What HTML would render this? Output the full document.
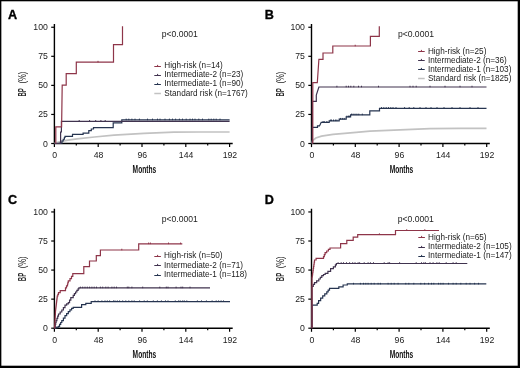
<!DOCTYPE html>
<html><head><meta charset="utf-8"><style>
html,body{margin:0;padding:0;background:#fff;}
svg{display:block;will-change:transform;}
text{font-family:"Liberation Sans",sans-serif;}
.tk{font-size:8.7px;fill:#1a1a1a;}
.lg{font-size:8.2px;fill:#222;}
.pv{font-size:8.6px;fill:#222;}
.pl{font-size:12.6px;font-weight:bold;fill:#000;stroke:#000;stroke-width:0.35px;}
.ml{font-size:10.8px;font-weight:bold;fill:#111;}
.bl{font-size:10px;font-weight:bold;fill:#2a2a2a;}
.bl2{font-size:10px;fill:#222;}
</style></head><body>
<svg width="520" height="368" viewBox="0 0 520 368">
<rect x="0" y="0" width="520" height="368" fill="#fff"/>
<text x="8.1" y="18.6" class="pl">A</text>
<text x="264.7" y="18.6" class="pl">B</text>
<text x="8.1" y="203.7" class="pl">C</text>
<text x="264.7" y="203.6" class="pl">D</text>
<path d="M54.4,24.10 V143.5 H232.70" fill="none" stroke="#000" stroke-width="1.4"/>
<path d="M51.20,143.50 H54.4" stroke="#000" stroke-width="1.2"/>
<text x="47.80" y="146.50" text-anchor="end" class="tk">0</text>
<path d="M51.20,114.44 H54.4" stroke="#000" stroke-width="1.2"/>
<text x="47.80" y="117.44" text-anchor="end" class="tk">25</text>
<path d="M51.20,85.38 H54.4" stroke="#000" stroke-width="1.2"/>
<text x="47.80" y="88.38" text-anchor="end" class="tk">50</text>
<path d="M51.20,56.31 H54.4" stroke="#000" stroke-width="1.2"/>
<text x="47.80" y="59.31" text-anchor="end" class="tk">75</text>
<path d="M51.20,27.25 H54.4" stroke="#000" stroke-width="1.2"/>
<text x="47.80" y="30.25" text-anchor="end" class="tk">100</text>
<path d="M54.40,143.5 V147.10" stroke="#000" stroke-width="1.2"/>
<text x="54.70" y="158.10" text-anchor="middle" class="tk">0</text>
<path d="M76.30,143.5 V145.50" stroke="#000" stroke-width="1.2"/>
<path d="M98.20,143.5 V147.10" stroke="#000" stroke-width="1.2"/>
<text x="98.50" y="158.10" text-anchor="middle" class="tk">48</text>
<path d="M120.10,143.5 V145.50" stroke="#000" stroke-width="1.2"/>
<path d="M142.00,143.5 V147.10" stroke="#000" stroke-width="1.2"/>
<text x="142.30" y="158.10" text-anchor="middle" class="tk">96</text>
<path d="M163.90,143.5 V145.50" stroke="#000" stroke-width="1.2"/>
<path d="M185.80,143.5 V147.10" stroke="#000" stroke-width="1.2"/>
<text x="186.10" y="158.10" text-anchor="middle" class="tk">144</text>
<path d="M207.70,143.5 V145.50" stroke="#000" stroke-width="1.2"/>
<path d="M229.60,143.5 V147.10" stroke="#000" stroke-width="1.2"/>
<text x="229.90" y="158.10" text-anchor="middle" class="tk">192</text>
<text x="0" y="0" transform="translate(144.40,172.80) scale(0.615,1)" text-anchor="middle" class="ml">Months</text>
<text x="0" y="0" transform="translate(26.40,96.50) rotate(-90) scale(0.60,1)" class="bl">BP</text>
<text x="0" y="0" transform="translate(26.40,83.60) rotate(-90) scale(0.76,1)" class="bl2">(%)</text>
<path d="M311.5,24.10 V143.5 H489.80" fill="none" stroke="#000" stroke-width="1.4"/>
<path d="M308.30,143.50 H311.5" stroke="#000" stroke-width="1.2"/>
<text x="304.90" y="146.50" text-anchor="end" class="tk">0</text>
<path d="M308.30,114.44 H311.5" stroke="#000" stroke-width="1.2"/>
<text x="304.90" y="117.44" text-anchor="end" class="tk">25</text>
<path d="M308.30,85.38 H311.5" stroke="#000" stroke-width="1.2"/>
<text x="304.90" y="88.38" text-anchor="end" class="tk">50</text>
<path d="M308.30,56.31 H311.5" stroke="#000" stroke-width="1.2"/>
<text x="304.90" y="59.31" text-anchor="end" class="tk">75</text>
<path d="M308.30,27.25 H311.5" stroke="#000" stroke-width="1.2"/>
<text x="304.90" y="30.25" text-anchor="end" class="tk">100</text>
<path d="M311.50,143.5 V147.10" stroke="#000" stroke-width="1.2"/>
<text x="311.80" y="158.10" text-anchor="middle" class="tk">0</text>
<path d="M333.40,143.5 V145.50" stroke="#000" stroke-width="1.2"/>
<path d="M355.30,143.5 V147.10" stroke="#000" stroke-width="1.2"/>
<text x="355.60" y="158.10" text-anchor="middle" class="tk">48</text>
<path d="M377.20,143.5 V145.50" stroke="#000" stroke-width="1.2"/>
<path d="M399.10,143.5 V147.10" stroke="#000" stroke-width="1.2"/>
<text x="399.40" y="158.10" text-anchor="middle" class="tk">96</text>
<path d="M421.00,143.5 V145.50" stroke="#000" stroke-width="1.2"/>
<path d="M442.90,143.5 V147.10" stroke="#000" stroke-width="1.2"/>
<text x="443.20" y="158.10" text-anchor="middle" class="tk">144</text>
<path d="M464.80,143.5 V145.50" stroke="#000" stroke-width="1.2"/>
<path d="M486.70,143.5 V147.10" stroke="#000" stroke-width="1.2"/>
<text x="487.00" y="158.10" text-anchor="middle" class="tk">192</text>
<text x="0" y="0" transform="translate(401.50,172.80) scale(0.615,1)" text-anchor="middle" class="ml">Months</text>
<text x="0" y="0" transform="translate(283.50,96.50) rotate(-90) scale(0.60,1)" class="bl">BP</text>
<text x="0" y="0" transform="translate(283.50,83.60) rotate(-90) scale(0.76,1)" class="bl2">(%)</text>
<path d="M54.4,208.80 V328.2 H232.70" fill="none" stroke="#000" stroke-width="1.4"/>
<path d="M51.20,328.20 H54.4" stroke="#000" stroke-width="1.2"/>
<text x="47.80" y="331.20" text-anchor="end" class="tk">0</text>
<path d="M51.20,299.14 H54.4" stroke="#000" stroke-width="1.2"/>
<text x="47.80" y="302.14" text-anchor="end" class="tk">25</text>
<path d="M51.20,270.07 H54.4" stroke="#000" stroke-width="1.2"/>
<text x="47.80" y="273.07" text-anchor="end" class="tk">50</text>
<path d="M51.20,241.01 H54.4" stroke="#000" stroke-width="1.2"/>
<text x="47.80" y="244.01" text-anchor="end" class="tk">75</text>
<path d="M51.20,211.95 H54.4" stroke="#000" stroke-width="1.2"/>
<text x="47.80" y="214.95" text-anchor="end" class="tk">100</text>
<path d="M54.40,328.2 V331.80" stroke="#000" stroke-width="1.2"/>
<text x="54.70" y="342.80" text-anchor="middle" class="tk">0</text>
<path d="M76.30,328.2 V330.20" stroke="#000" stroke-width="1.2"/>
<path d="M98.20,328.2 V331.80" stroke="#000" stroke-width="1.2"/>
<text x="98.50" y="342.80" text-anchor="middle" class="tk">48</text>
<path d="M120.10,328.2 V330.20" stroke="#000" stroke-width="1.2"/>
<path d="M142.00,328.2 V331.80" stroke="#000" stroke-width="1.2"/>
<text x="142.30" y="342.80" text-anchor="middle" class="tk">96</text>
<path d="M163.90,328.2 V330.20" stroke="#000" stroke-width="1.2"/>
<path d="M185.80,328.2 V331.80" stroke="#000" stroke-width="1.2"/>
<text x="186.10" y="342.80" text-anchor="middle" class="tk">144</text>
<path d="M207.70,328.2 V330.20" stroke="#000" stroke-width="1.2"/>
<path d="M229.60,328.2 V331.80" stroke="#000" stroke-width="1.2"/>
<text x="229.90" y="342.80" text-anchor="middle" class="tk">192</text>
<text x="0" y="0" transform="translate(144.40,357.50) scale(0.615,1)" text-anchor="middle" class="ml">Months</text>
<text x="0" y="0" transform="translate(26.40,281.20) rotate(-90) scale(0.60,1)" class="bl">BP</text>
<text x="0" y="0" transform="translate(26.40,268.30) rotate(-90) scale(0.76,1)" class="bl2">(%)</text>
<path d="M311.5,208.80 V328.2 H489.80" fill="none" stroke="#000" stroke-width="1.4"/>
<path d="M308.30,328.20 H311.5" stroke="#000" stroke-width="1.2"/>
<text x="304.90" y="331.20" text-anchor="end" class="tk">0</text>
<path d="M308.30,299.14 H311.5" stroke="#000" stroke-width="1.2"/>
<text x="304.90" y="302.14" text-anchor="end" class="tk">25</text>
<path d="M308.30,270.07 H311.5" stroke="#000" stroke-width="1.2"/>
<text x="304.90" y="273.07" text-anchor="end" class="tk">50</text>
<path d="M308.30,241.01 H311.5" stroke="#000" stroke-width="1.2"/>
<text x="304.90" y="244.01" text-anchor="end" class="tk">75</text>
<path d="M308.30,211.95 H311.5" stroke="#000" stroke-width="1.2"/>
<text x="304.90" y="214.95" text-anchor="end" class="tk">100</text>
<path d="M311.50,328.2 V331.80" stroke="#000" stroke-width="1.2"/>
<text x="311.80" y="342.80" text-anchor="middle" class="tk">0</text>
<path d="M333.40,328.2 V330.20" stroke="#000" stroke-width="1.2"/>
<path d="M355.30,328.2 V331.80" stroke="#000" stroke-width="1.2"/>
<text x="355.60" y="342.80" text-anchor="middle" class="tk">48</text>
<path d="M377.20,328.2 V330.20" stroke="#000" stroke-width="1.2"/>
<path d="M399.10,328.2 V331.80" stroke="#000" stroke-width="1.2"/>
<text x="399.40" y="342.80" text-anchor="middle" class="tk">96</text>
<path d="M421.00,328.2 V330.20" stroke="#000" stroke-width="1.2"/>
<path d="M442.90,328.2 V331.80" stroke="#000" stroke-width="1.2"/>
<text x="443.20" y="342.80" text-anchor="middle" class="tk">144</text>
<path d="M464.80,328.2 V330.20" stroke="#000" stroke-width="1.2"/>
<path d="M486.70,328.2 V331.80" stroke="#000" stroke-width="1.2"/>
<text x="487.00" y="342.80" text-anchor="middle" class="tk">192</text>
<text x="0" y="0" transform="translate(401.50,357.50) scale(0.615,1)" text-anchor="middle" class="ml">Months</text>
<text x="0" y="0" transform="translate(283.50,281.20) rotate(-90) scale(0.60,1)" class="bl">BP</text>
<text x="0" y="0" transform="translate(283.50,268.30) rotate(-90) scale(0.76,1)" class="bl2">(%)</text>
<path d="M54.4,143.5 L57,142.6 L61,141.3 L68,140.1 L77,138.9 L94.4,137 L114,135.2 L144,133.3 L174,132.2 L200,132 L229.6,132" fill="none" stroke="#c2c2c2" stroke-width="1.7" stroke-linejoin="miter" stroke-linecap="butt" />
<path d="M54.40,143.50 H56.90 V143.30 H59.40 V143.10 H62.00 V141.00 H63.20 V139.25 H64.40 V137.50 H65.00 V136.30 H72.50 V134.40 H83.10 V133.10 H88.80 V130.60 H91.30 V129.00 H93.50 V127.60 H113.20 V122.90 H121.80 V119.90 H229.60" fill="none" stroke="#263450" stroke-width="1.2" stroke-linejoin="miter" stroke-linecap="butt" />
<path d="M126.2,118.65 V120.20" stroke="#263450" stroke-width="1.0"/>
<path d="M128.8,118.65 V120.20" stroke="#263450" stroke-width="1.0"/>
<path d="M131.9,118.65 V120.20" stroke="#263450" stroke-width="1.0"/>
<path d="M135.0,118.65 V120.20" stroke="#263450" stroke-width="1.0"/>
<path d="M139.4,118.65 V120.20" stroke="#263450" stroke-width="1.0"/>
<path d="M147.5,118.65 V120.20" stroke="#263450" stroke-width="1.0"/>
<path d="M152.5,118.65 V120.20" stroke="#263450" stroke-width="1.0"/>
<path d="M157.5,118.65 V120.20" stroke="#263450" stroke-width="1.0"/>
<path d="M160.0,118.65 V120.20" stroke="#263450" stroke-width="1.0"/>
<path d="M165.0,118.65 V120.20" stroke="#263450" stroke-width="1.0"/>
<path d="M169.4,118.65 V120.20" stroke="#263450" stroke-width="1.0"/>
<path d="M172.5,118.65 V120.20" stroke="#263450" stroke-width="1.0"/>
<path d="M175.6,118.65 V120.20" stroke="#263450" stroke-width="1.0"/>
<path d="M179.4,118.65 V120.20" stroke="#263450" stroke-width="1.0"/>
<path d="M182.5,118.65 V120.20" stroke="#263450" stroke-width="1.0"/>
<path d="M186.2,118.65 V120.20" stroke="#263450" stroke-width="1.0"/>
<path d="M190.0,118.65 V120.20" stroke="#263450" stroke-width="1.0"/>
<path d="M192.5,118.65 V120.20" stroke="#263450" stroke-width="1.0"/>
<path d="M195.0,118.65 V120.20" stroke="#263450" stroke-width="1.0"/>
<path d="M198.8,118.65 V120.20" stroke="#263450" stroke-width="1.0"/>
<path d="M202.5,118.65 V120.20" stroke="#263450" stroke-width="1.0"/>
<path d="M208.8,118.65 V120.20" stroke="#263450" stroke-width="1.0"/>
<path d="M211.2,118.65 V120.20" stroke="#263450" stroke-width="1.0"/>
<path d="M213.8,118.65 V120.20" stroke="#263450" stroke-width="1.0"/>
<path d="M216.2,118.65 V120.20" stroke="#263450" stroke-width="1.0"/>
<path d="M220.0,118.65 V120.20" stroke="#263450" stroke-width="1.0"/>
<path d="M54.4,143.5 H60.6 V132 H61.4 V121.3 H229.6" fill="none" stroke="#40334f" stroke-width="1.2" stroke-linejoin="miter" stroke-linecap="butt" />
<path d="M79.2,120.05 V121.60" stroke="#40334f" stroke-width="1.0"/>
<path d="M89.6,120.05 V121.60" stroke="#40334f" stroke-width="1.0"/>
<path d="M95.7,120.05 V121.60" stroke="#40334f" stroke-width="1.0"/>
<path d="M100.9,120.05 V121.60" stroke="#40334f" stroke-width="1.0"/>
<path d="M105.2,120.05 V121.60" stroke="#40334f" stroke-width="1.0"/>
<path d="M55.8,143.5 V126.8 H61.6 L62.2,85.2 H66.2 V73.6 H76.3 V62.1 H113.5 V44.6 H122.5 V26.2" fill="none" stroke="#8e3549" stroke-width="1.2" stroke-linejoin="miter" stroke-linecap="butt" />
<path d="M98.0,60.85 V62.40" stroke="#8e3549" stroke-width="1.0"/>
<path d="M312,143.5 L312.6,140.6 L315.8,138.0 L321.5,136.1 L333,134.4 L344.6,133.3 L356.1,132.4 L370,131.1 L400,129.8 L430,128.6 L460,128.4 L486.5,128.4" fill="none" stroke="#c2c2c2" stroke-width="1.7" stroke-linejoin="miter" stroke-linecap="butt" />
<path d="M312.4,143.5 V127.3 H317.5 V125.9 H319.5 L321.2,122.3 H329.2 V120.8 H339.2 V119.2 H346.2 V116.9 H350.6 V114.9 H369.8 V110.8 H379.5 V108.4 H486.5" fill="none" stroke="#263450" stroke-width="1.2" stroke-linejoin="miter" stroke-linecap="butt" />
<path d="M381.5,107.15 V108.70" stroke="#263450" stroke-width="1.0"/>
<path d="M383.8,107.15 V108.70" stroke="#263450" stroke-width="1.0"/>
<path d="M386.2,107.15 V108.70" stroke="#263450" stroke-width="1.0"/>
<path d="M388.5,107.15 V108.70" stroke="#263450" stroke-width="1.0"/>
<path d="M390.8,107.15 V108.70" stroke="#263450" stroke-width="1.0"/>
<path d="M393.0,107.15 V108.70" stroke="#263450" stroke-width="1.0"/>
<path d="M396.0,107.15 V108.70" stroke="#263450" stroke-width="1.0"/>
<path d="M404.6,107.15 V108.70" stroke="#263450" stroke-width="1.0"/>
<path d="M409.2,107.15 V108.70" stroke="#263450" stroke-width="1.0"/>
<path d="M413.8,107.15 V108.70" stroke="#263450" stroke-width="1.0"/>
<path d="M420.0,107.15 V108.70" stroke="#263450" stroke-width="1.0"/>
<path d="M426.0,107.15 V108.70" stroke="#263450" stroke-width="1.0"/>
<path d="M431.0,107.15 V108.70" stroke="#263450" stroke-width="1.0"/>
<path d="M437.0,107.15 V108.70" stroke="#263450" stroke-width="1.0"/>
<path d="M444.0,107.15 V108.70" stroke="#263450" stroke-width="1.0"/>
<path d="M452.0,107.15 V108.70" stroke="#263450" stroke-width="1.0"/>
<path d="M460.0,107.15 V108.70" stroke="#263450" stroke-width="1.0"/>
<path d="M470.0,107.15 V108.70" stroke="#263450" stroke-width="1.0"/>
<path d="M478.0,107.15 V108.70" stroke="#263450" stroke-width="1.0"/>
<path d="M351.5,113.65 V115.20" stroke="#263450" stroke-width="1.0"/>
<path d="M353.1,113.65 V115.20" stroke="#263450" stroke-width="1.0"/>
<path d="M355.0,113.65 V115.20" stroke="#263450" stroke-width="1.0"/>
<path d="M356.9,113.65 V115.20" stroke="#263450" stroke-width="1.0"/>
<path d="M358.8,113.65 V115.20" stroke="#263450" stroke-width="1.0"/>
<path d="M362.3,113.65 V115.20" stroke="#263450" stroke-width="1.0"/>
<path d="M323.0,121.05 V122.60" stroke="#263450" stroke-width="1.0"/>
<path d="M324.2,121.05 V122.60" stroke="#263450" stroke-width="1.0"/>
<path d="M326.9,121.05 V122.60" stroke="#263450" stroke-width="1.0"/>
<path d="M330.4,119.55 V121.10" stroke="#263450" stroke-width="1.0"/>
<path d="M331.5,119.55 V121.10" stroke="#263450" stroke-width="1.0"/>
<path d="M333.5,119.55 V121.10" stroke="#263450" stroke-width="1.0"/>
<path d="M335.4,119.55 V121.10" stroke="#263450" stroke-width="1.0"/>
<path d="M336.9,119.55 V121.10" stroke="#263450" stroke-width="1.0"/>
<path d="M340.4,117.95 V119.50" stroke="#263450" stroke-width="1.0"/>
<path d="M342.3,117.95 V119.50" stroke="#263450" stroke-width="1.0"/>
<path d="M344.2,117.95 V119.50" stroke="#263450" stroke-width="1.0"/>
<path d="M346.9,115.65 V117.20" stroke="#263450" stroke-width="1.0"/>
<path d="M348.5,115.65 V117.20" stroke="#263450" stroke-width="1.0"/>
<path d="M349.6,115.65 V117.20" stroke="#263450" stroke-width="1.0"/>
<path d="M312.4,143.5 V101.3 H316.3 V95 L318.9,87 H486.5" fill="none" stroke="#40334f" stroke-width="1.2" stroke-linejoin="miter" stroke-linecap="butt" />
<path d="M336.9,85.75 V87.30" stroke="#40334f" stroke-width="1.0"/>
<path d="M346.2,85.75 V87.30" stroke="#40334f" stroke-width="1.0"/>
<path d="M348.5,85.75 V87.30" stroke="#40334f" stroke-width="1.0"/>
<path d="M350.8,85.75 V87.30" stroke="#40334f" stroke-width="1.0"/>
<path d="M353.8,85.75 V87.30" stroke="#40334f" stroke-width="1.0"/>
<path d="M358.5,85.75 V87.30" stroke="#40334f" stroke-width="1.0"/>
<path d="M361.5,85.75 V87.30" stroke="#40334f" stroke-width="1.0"/>
<path d="M378.5,85.75 V87.30" stroke="#40334f" stroke-width="1.0"/>
<path d="M410.0,85.75 V87.30" stroke="#40334f" stroke-width="1.0"/>
<path d="M413.0,85.75 V87.30" stroke="#40334f" stroke-width="1.0"/>
<path d="M416.2,85.75 V87.30" stroke="#40334f" stroke-width="1.0"/>
<path d="M430.0,85.75 V87.30" stroke="#40334f" stroke-width="1.0"/>
<path d="M445.0,85.75 V87.30" stroke="#40334f" stroke-width="1.0"/>
<path d="M460.0,85.75 V87.30" stroke="#40334f" stroke-width="1.0"/>
<path d="M472.0,85.75 V87.30" stroke="#40334f" stroke-width="1.0"/>
<path d="M312.8,143.5 V82.7 H317.3 L318.9,59.3 H323 V53 H332.8 V46 H370.4 V36.3 H379.3 V26.2" fill="none" stroke="#8e3549" stroke-width="1.2" stroke-linejoin="miter" stroke-linecap="butt" />
<path d="M355.2,44.75 V46.30" stroke="#8e3549" stroke-width="1.0"/>
<path d="M54.40,328.20 H55.30 V327.90 H56.90 V327.10 H58.50 V326.30 H59.60 V324.40 H60.70 V322.50 H61.80 V320.60 H63.40 V318.15 H65.00 V315.70 H66.65 V313.65 H68.30 V311.60 H69.95 V309.95 H71.60 V308.30 H73.20 V307.40 H81.60 V304.60 H85.80 V303.40 H91.20 V301.70 H230.00" fill="none" stroke="#263450" stroke-width="1.2" stroke-linejoin="miter" stroke-linecap="butt" />
<path d="M95.0,300.45 V302.00" stroke="#263450" stroke-width="1.0"/>
<path d="M98.1,300.45 V302.00" stroke="#263450" stroke-width="1.0"/>
<path d="M101.9,300.45 V302.00" stroke="#263450" stroke-width="1.0"/>
<path d="M105.0,300.45 V302.00" stroke="#263450" stroke-width="1.0"/>
<path d="M107.3,300.45 V302.00" stroke="#263450" stroke-width="1.0"/>
<path d="M109.6,300.45 V302.00" stroke="#263450" stroke-width="1.0"/>
<path d="M113.5,300.45 V302.00" stroke="#263450" stroke-width="1.0"/>
<path d="M115.0,300.45 V302.00" stroke="#263450" stroke-width="1.0"/>
<path d="M117.3,300.45 V302.00" stroke="#263450" stroke-width="1.0"/>
<path d="M119.6,300.45 V302.00" stroke="#263450" stroke-width="1.0"/>
<path d="M122.7,300.45 V302.00" stroke="#263450" stroke-width="1.0"/>
<path d="M125.8,300.45 V302.00" stroke="#263450" stroke-width="1.0"/>
<path d="M128.8,300.45 V302.00" stroke="#263450" stroke-width="1.0"/>
<path d="M131.9,300.45 V302.00" stroke="#263450" stroke-width="1.0"/>
<path d="M134.2,300.45 V302.00" stroke="#263450" stroke-width="1.0"/>
<path d="M139.6,300.45 V302.00" stroke="#263450" stroke-width="1.0"/>
<path d="M144.2,300.45 V302.00" stroke="#263450" stroke-width="1.0"/>
<path d="M147.3,300.45 V302.00" stroke="#263450" stroke-width="1.0"/>
<path d="M153.3,300.45 V302.00" stroke="#263450" stroke-width="1.0"/>
<path d="M157.4,300.45 V302.00" stroke="#263450" stroke-width="1.0"/>
<path d="M161.4,300.45 V302.00" stroke="#263450" stroke-width="1.0"/>
<path d="M165.5,300.45 V302.00" stroke="#263450" stroke-width="1.0"/>
<path d="M168.0,300.45 V302.00" stroke="#263450" stroke-width="1.0"/>
<path d="M175.3,300.45 V302.00" stroke="#263450" stroke-width="1.0"/>
<path d="M178.6,300.45 V302.00" stroke="#263450" stroke-width="1.0"/>
<path d="M180.2,300.45 V302.00" stroke="#263450" stroke-width="1.0"/>
<path d="M182.7,300.45 V302.00" stroke="#263450" stroke-width="1.0"/>
<path d="M184.3,300.45 V302.00" stroke="#263450" stroke-width="1.0"/>
<path d="M186.8,300.45 V302.00" stroke="#263450" stroke-width="1.0"/>
<path d="M197.4,300.45 V302.00" stroke="#263450" stroke-width="1.0"/>
<path d="M201.5,300.45 V302.00" stroke="#263450" stroke-width="1.0"/>
<path d="M206.4,300.45 V302.00" stroke="#263450" stroke-width="1.0"/>
<path d="M212.1,300.45 V302.00" stroke="#263450" stroke-width="1.0"/>
<path d="M216.2,300.45 V302.00" stroke="#263450" stroke-width="1.0"/>
<path d="M218.6,300.45 V302.00" stroke="#263450" stroke-width="1.0"/>
<path d="M221.1,300.45 V302.00" stroke="#263450" stroke-width="1.0"/>
<path d="M223.5,300.45 V302.00" stroke="#263450" stroke-width="1.0"/>
<path d="M54.40,328.20 H54.83 V326.30 H55.25 V324.40 H55.67 V322.50 H56.10 V320.60 H56.90 V318.40 H57.70 V316.20 H58.50 V314.00 H60.15 V312.00 H61.80 V310.00 H63.40 V307.55 H65.00 V305.10 H66.65 V303.85 H68.30 V302.60 H69.55 V300.15 H70.80 V297.70 H73.20 V295.30 H74.40 V293.65 H75.60 V292.00 H76.85 V290.40 H78.10 V288.80 H78.90 V287.90 H210.00" fill="none" stroke="#40334f" stroke-width="1.2" stroke-linejoin="miter" stroke-linecap="butt" />
<path d="M80.4,286.65 V288.20" stroke="#40334f" stroke-width="1.0"/>
<path d="M82.7,286.65 V288.20" stroke="#40334f" stroke-width="1.0"/>
<path d="M85.0,286.65 V288.20" stroke="#40334f" stroke-width="1.0"/>
<path d="M87.3,286.65 V288.20" stroke="#40334f" stroke-width="1.0"/>
<path d="M89.6,286.65 V288.20" stroke="#40334f" stroke-width="1.0"/>
<path d="M91.9,286.65 V288.20" stroke="#40334f" stroke-width="1.0"/>
<path d="M94.2,286.65 V288.20" stroke="#40334f" stroke-width="1.0"/>
<path d="M96.5,286.65 V288.20" stroke="#40334f" stroke-width="1.0"/>
<path d="M100.4,286.65 V288.20" stroke="#40334f" stroke-width="1.0"/>
<path d="M102.7,286.65 V288.20" stroke="#40334f" stroke-width="1.0"/>
<path d="M105.8,286.65 V288.20" stroke="#40334f" stroke-width="1.0"/>
<path d="M108.1,286.65 V288.20" stroke="#40334f" stroke-width="1.0"/>
<path d="M111.9,286.65 V288.20" stroke="#40334f" stroke-width="1.0"/>
<path d="M114.2,286.65 V288.20" stroke="#40334f" stroke-width="1.0"/>
<path d="M116.5,286.65 V288.20" stroke="#40334f" stroke-width="1.0"/>
<path d="M127.3,286.65 V288.20" stroke="#40334f" stroke-width="1.0"/>
<path d="M128.8,286.65 V288.20" stroke="#40334f" stroke-width="1.0"/>
<path d="M131.9,286.65 V288.20" stroke="#40334f" stroke-width="1.0"/>
<path d="M142.7,286.65 V288.20" stroke="#40334f" stroke-width="1.0"/>
<path d="M159.8,286.65 V288.20" stroke="#40334f" stroke-width="1.0"/>
<path d="M166.3,286.65 V288.20" stroke="#40334f" stroke-width="1.0"/>
<path d="M168.0,286.65 V288.20" stroke="#40334f" stroke-width="1.0"/>
<path d="M176.1,286.65 V288.20" stroke="#40334f" stroke-width="1.0"/>
<path d="M181.0,286.65 V288.20" stroke="#40334f" stroke-width="1.0"/>
<path d="M182.7,286.65 V288.20" stroke="#40334f" stroke-width="1.0"/>
<path d="M190.0,286.65 V288.20" stroke="#40334f" stroke-width="1.0"/>
<path d="M54.60,328.20 H54.70 V326.18 H54.80 V324.16 H54.90 V322.13 H55.00 V320.11 H55.10 V318.09 H55.20 V316.07 H55.30 V314.04 H55.40 V312.02 H55.50 V310.00 H55.74 V308.00 H55.99 V306.00 H56.23 V304.00 H56.47 V302.00 H56.71 V300.00 H56.96 V298.00 H57.20 V296.00 H57.85 V294.30 H58.50 V292.60 H60.20 V290.60 H64.20 H65.50 V287.80 H66.50 V285.90 H67.50 V284.00 H67.90 V282.40 H68.30 V280.80 H70.00 V278.60 H71.50 V276.40 H72.80 V273.60 H83.80 V266.60 H89.50 V261.00 H96.30 V255.70 H100.40 V250.00 H138.70 V243.80 H182.30" fill="none" stroke="#8e3549" stroke-width="1.2" stroke-linejoin="miter" stroke-linecap="butt" />
<path d="M121.8,248.75 V250.30" stroke="#8e3549" stroke-width="1.0"/>
<path d="M148.6,242.55 V244.10" stroke="#8e3549" stroke-width="1.0"/>
<path d="M150.4,242.55 V244.10" stroke="#8e3549" stroke-width="1.0"/>
<path d="M168.5,242.55 V244.10" stroke="#8e3549" stroke-width="1.0"/>
<path d="M180.6,242.55 V244.10" stroke="#8e3549" stroke-width="1.0"/>
<path d="M312.00,328.20 V305.10 H315.50 H317.20 V303.30 H318.60 V300.60 H320.65 V298.20 H322.70 V295.80 H324.75 V293.80 H326.80 V291.80 H328.15 V290.10 H329.50 V288.40 H338.80 V286.80 H343.10 V285.00 H347.30 V283.90 H486.30" fill="none" stroke="#263450" stroke-width="1.2" stroke-linejoin="miter" stroke-linecap="butt" />
<path d="M353.5,282.85 V284.40" stroke="#263450" stroke-width="1.0"/>
<path d="M360.4,282.85 V284.40" stroke="#263450" stroke-width="1.0"/>
<path d="M363.5,282.85 V284.40" stroke="#263450" stroke-width="1.0"/>
<path d="M365.8,282.85 V284.40" stroke="#263450" stroke-width="1.0"/>
<path d="M368.1,282.85 V284.40" stroke="#263450" stroke-width="1.0"/>
<path d="M371.2,282.85 V284.40" stroke="#263450" stroke-width="1.0"/>
<path d="M374.2,282.85 V284.40" stroke="#263450" stroke-width="1.0"/>
<path d="M378.1,282.85 V284.40" stroke="#263450" stroke-width="1.0"/>
<path d="M380.4,282.85 V284.40" stroke="#263450" stroke-width="1.0"/>
<path d="M388.1,282.85 V284.40" stroke="#263450" stroke-width="1.0"/>
<path d="M391.2,282.85 V284.40" stroke="#263450" stroke-width="1.0"/>
<path d="M394.2,282.85 V284.40" stroke="#263450" stroke-width="1.0"/>
<path d="M398.1,282.85 V284.40" stroke="#263450" stroke-width="1.0"/>
<path d="M405.8,282.85 V284.40" stroke="#263450" stroke-width="1.0"/>
<path d="M408.8,282.85 V284.40" stroke="#263450" stroke-width="1.0"/>
<path d="M413.8,282.85 V284.40" stroke="#263450" stroke-width="1.0"/>
<path d="M420.8,282.85 V284.40" stroke="#263450" stroke-width="1.0"/>
<path d="M424.6,282.85 V284.40" stroke="#263450" stroke-width="1.0"/>
<path d="M428.5,282.85 V284.40" stroke="#263450" stroke-width="1.0"/>
<path d="M431.5,282.85 V284.40" stroke="#263450" stroke-width="1.0"/>
<path d="M433.8,282.85 V284.40" stroke="#263450" stroke-width="1.0"/>
<path d="M438.5,282.85 V284.40" stroke="#263450" stroke-width="1.0"/>
<path d="M440.8,282.85 V284.40" stroke="#263450" stroke-width="1.0"/>
<path d="M443.1,282.85 V284.40" stroke="#263450" stroke-width="1.0"/>
<path d="M448.5,282.85 V284.40" stroke="#263450" stroke-width="1.0"/>
<path d="M453.1,282.85 V284.40" stroke="#263450" stroke-width="1.0"/>
<path d="M456.2,282.85 V284.40" stroke="#263450" stroke-width="1.0"/>
<path d="M460.8,282.85 V284.40" stroke="#263450" stroke-width="1.0"/>
<path d="M466.2,282.85 V284.40" stroke="#263450" stroke-width="1.0"/>
<path d="M470.0,282.85 V284.40" stroke="#263450" stroke-width="1.0"/>
<path d="M474.6,282.85 V284.40" stroke="#263450" stroke-width="1.0"/>
<path d="M478.5,282.85 V284.40" stroke="#263450" stroke-width="1.0"/>
<path d="M312.00,328.20 V286.30 H313.25 V284.45 H314.50 V282.60 H316.65 V280.80 H318.80 V279.00 H320.30 V277.30 H321.80 V275.60 H323.50 V274.50 H325.20 V273.40 H327.90 V271.30 H330.60 V268.60 H333.40 V266.90 H335.40 V264.90 H336.40 V263.50 H467.30" fill="none" stroke="#40334f" stroke-width="1.2" stroke-linejoin="miter" stroke-linecap="butt" />
<path d="M338.1,262.25 V263.80" stroke="#40334f" stroke-width="1.0"/>
<path d="M341.2,262.25 V263.80" stroke="#40334f" stroke-width="1.0"/>
<path d="M343.5,262.25 V263.80" stroke="#40334f" stroke-width="1.0"/>
<path d="M346.5,262.25 V263.80" stroke="#40334f" stroke-width="1.0"/>
<path d="M349.6,262.25 V263.80" stroke="#40334f" stroke-width="1.0"/>
<path d="M352.7,262.25 V263.80" stroke="#40334f" stroke-width="1.0"/>
<path d="M355.0,262.25 V263.80" stroke="#40334f" stroke-width="1.0"/>
<path d="M358.1,262.25 V263.80" stroke="#40334f" stroke-width="1.0"/>
<path d="M359.6,262.25 V263.80" stroke="#40334f" stroke-width="1.0"/>
<path d="M364.2,262.25 V263.80" stroke="#40334f" stroke-width="1.0"/>
<path d="M368.1,262.25 V263.80" stroke="#40334f" stroke-width="1.0"/>
<path d="M370.4,262.25 V263.80" stroke="#40334f" stroke-width="1.0"/>
<path d="M373.5,262.25 V263.80" stroke="#40334f" stroke-width="1.0"/>
<path d="M384.2,262.25 V263.80" stroke="#40334f" stroke-width="1.0"/>
<path d="M388.1,262.25 V263.80" stroke="#40334f" stroke-width="1.0"/>
<path d="M389.6,262.25 V263.80" stroke="#40334f" stroke-width="1.0"/>
<path d="M399.6,262.25 V263.80" stroke="#40334f" stroke-width="1.0"/>
<path d="M416.2,262.25 V263.80" stroke="#40334f" stroke-width="1.0"/>
<path d="M421.5,262.25 V263.80" stroke="#40334f" stroke-width="1.0"/>
<path d="M423.8,262.25 V263.80" stroke="#40334f" stroke-width="1.0"/>
<path d="M425.4,262.25 V263.80" stroke="#40334f" stroke-width="1.0"/>
<path d="M430.0,262.25 V263.80" stroke="#40334f" stroke-width="1.0"/>
<path d="M433.1,262.25 V263.80" stroke="#40334f" stroke-width="1.0"/>
<path d="M436.9,262.25 V263.80" stroke="#40334f" stroke-width="1.0"/>
<path d="M439.2,262.25 V263.80" stroke="#40334f" stroke-width="1.0"/>
<path d="M446.2,262.25 V263.80" stroke="#40334f" stroke-width="1.0"/>
<path d="M453.1,262.25 V263.80" stroke="#40334f" stroke-width="1.0"/>
<path d="M456.2,262.25 V263.80" stroke="#40334f" stroke-width="1.0"/>
<path d="M312.00,328.20 V277.00 H312.31 V274.88 H312.62 V272.75 H312.94 V270.62 H313.25 V268.50 H313.56 V266.38 H313.88 V264.25 H314.19 V262.12 H314.50 V260.00 H316.10 V258.30 H321.80 H323.50 V256.60 H324.30 V254.60 H325.10 V252.60 H326.70 V251.00 H328.40 V249.30 H330.00 V248.00 H340.60 V243.60 H346.80 V240.40 H353.20 V237.10 H357.70 V234.60 H395.50 V230.50 H439.00" fill="none" stroke="#8e3549" stroke-width="1.2" stroke-linejoin="miter" stroke-linecap="butt" />
<path d="M379.4,233.35 V234.90" stroke="#8e3549" stroke-width="1.0"/>
<path d="M406.7,229.25 V230.80" stroke="#8e3549" stroke-width="1.0"/>
<path d="M424.8,229.25 V230.80" stroke="#8e3549" stroke-width="1.0"/>
<text x="161.7" y="36.7" class="pv">p&lt;0.0001</text>
<text x="397.9" y="36.5" class="pv">p&lt;0.0001</text>
<text x="161.7" y="222.4" class="pv">p&lt;0.0001</text>
<text x="397.7" y="222.1" class="pv">p&lt;0.0001</text>
<path d="M154.3,66.50 H160.90" stroke="#8e3549" stroke-width="1.05"/>
<path d="M157.60,64.90 V67.00" stroke="#8e3549" stroke-width="1.0"/>
<text x="164.3" y="68" class="lg">High-risk (n=14)</text>
<path d="M154.3,75.50 H160.90" stroke="#40334f" stroke-width="1.05"/>
<path d="M157.60,73.90 V76.00" stroke="#40334f" stroke-width="1.0"/>
<text x="164.3" y="77.2" class="lg">Intermediate-2 (n=23)</text>
<path d="M154.3,84.50 H160.90" stroke="#263450" stroke-width="1.05"/>
<path d="M157.60,82.90 V85.00" stroke="#263450" stroke-width="1.0"/>
<text x="164.3" y="86.4" class="lg">Intermediate-1 (n=90)</text>
<path d="M154.3,93.50 H160.90" stroke="#c2c2c2" stroke-width="1.5"/>
<text x="164.3" y="95.6" class="lg">Standard risk (n=1767)</text>
<path d="M418.1,51.50 H424.70" stroke="#8e3549" stroke-width="1.05"/>
<path d="M421.40,49.90 V52.00" stroke="#8e3549" stroke-width="1.0"/>
<text x="427.9" y="53.6" class="lg">High-risk (n=25)</text>
<path d="M418.1,60.50 H424.70" stroke="#40334f" stroke-width="1.05"/>
<path d="M421.40,58.90 V61.00" stroke="#40334f" stroke-width="1.0"/>
<text x="427.9" y="62.7" class="lg">Intermediate-2 (n=36)</text>
<path d="M418.1,69.50 H424.70" stroke="#263450" stroke-width="1.05"/>
<path d="M421.40,67.90 V70.00" stroke="#263450" stroke-width="1.0"/>
<text x="427.9" y="71.7" class="lg">Intermediate-1 (n=103)</text>
<path d="M418.1,78.50 H424.70" stroke="#c2c2c2" stroke-width="1.5"/>
<text x="427.9" y="80.7" class="lg">Standard risk (n=1825)</text>
<path d="M154.3,256.50 H160.90" stroke="#8e3549" stroke-width="1.05"/>
<path d="M157.60,254.90 V257.00" stroke="#8e3549" stroke-width="1.0"/>
<text x="164.1" y="258.3" class="lg">High-risk (n=50)</text>
<path d="M154.3,265.50 H160.90" stroke="#40334f" stroke-width="1.05"/>
<path d="M157.60,263.90 V266.00" stroke="#40334f" stroke-width="1.0"/>
<text x="164.1" y="267.5" class="lg">Intermediate-2 (n=71)</text>
<path d="M154.3,275.50 H160.90" stroke="#263450" stroke-width="1.05"/>
<path d="M157.60,273.90 V276.00" stroke="#263450" stroke-width="1.0"/>
<text x="164.1" y="276.9" class="lg">Intermediate-1 (n=118)</text>
<path d="M418.3,237.50 H424.90" stroke="#8e3549" stroke-width="1.05"/>
<path d="M421.60,235.90 V238.00" stroke="#8e3549" stroke-width="1.0"/>
<text x="428.1" y="239.7" class="lg">High-risk (n=65)</text>
<path d="M418.3,247.50 H424.90" stroke="#40334f" stroke-width="1.05"/>
<path d="M421.60,245.90 V248.00" stroke="#40334f" stroke-width="1.0"/>
<text x="428.1" y="248.9" class="lg">Intermediate-2 (n=105)</text>
<path d="M418.3,256.50 H424.90" stroke="#263450" stroke-width="1.05"/>
<path d="M421.60,254.90 V257.00" stroke="#263450" stroke-width="1.0"/>
<text x="428.1" y="258.1" class="lg">Intermediate-1 (n=147)</text>
<rect x="0" y="0" width="520" height="1.3" fill="#000"/>
<rect x="0" y="0" width="1.35" height="368" fill="#000"/>
<rect x="517.7" y="0" width="2.3" height="368" fill="#000"/>
<rect x="0" y="365.7" width="520" height="2.3" fill="#000"/>
</svg>
</body></html>
